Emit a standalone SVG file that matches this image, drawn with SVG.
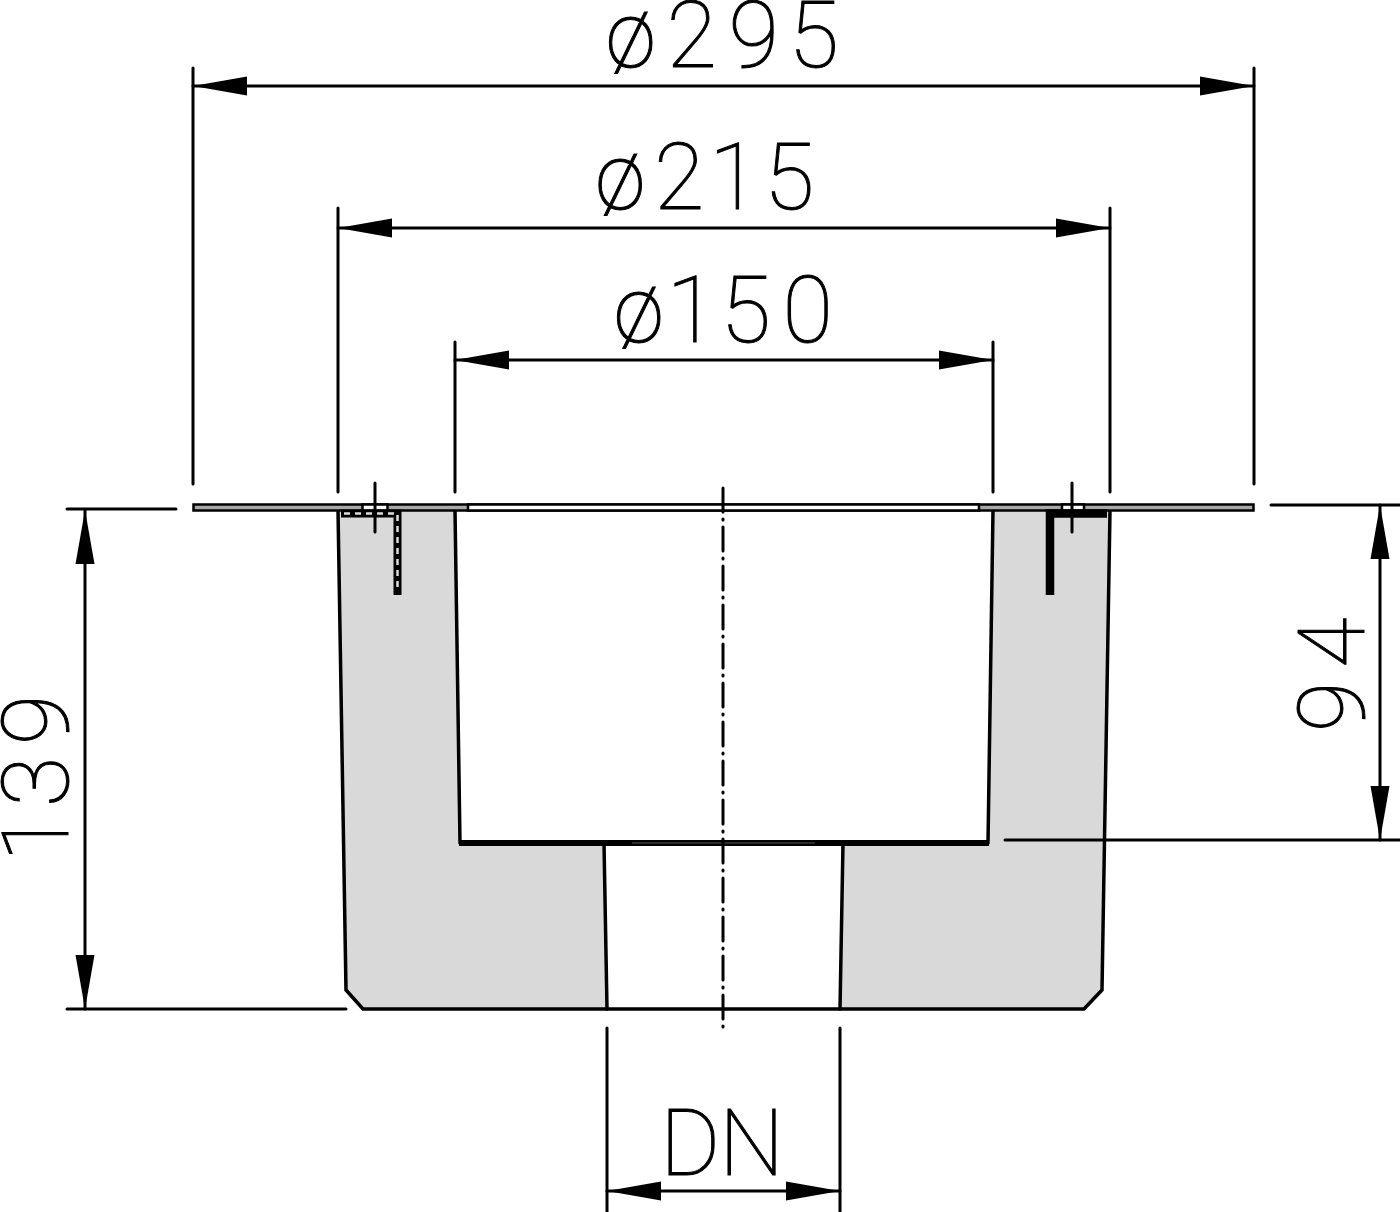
<svg xmlns="http://www.w3.org/2000/svg" width="1400" height="1212" viewBox="0 0 1400 1212">
<style>
.l{fill:none;stroke:#000;stroke-width:3;stroke-linecap:round}
.h{stroke-width:3.500}
.t{font-family:"Roboto","Liberation Sans",sans-serif;font-weight:100;font-size:92px;fill:#000;stroke:#000;stroke-width:1}
</style>
<defs>
<marker id="a" markerUnits="userSpaceOnUse" markerWidth="56" markerHeight="22" refX="54" refY="11" orient="auto-start-reverse"><path d="M0 1.500 54 11 0 20.500z" fill="#000"/></marker>
</defs>
<rect width="1400" height="1212" fill="#fff"/>
<g id="body">
<path d="M338 510H455L460 843H604L607 1009H363L346 990Z" fill="#d9d9d9"/>
<path d="M993 510H1110L1102 990 1084 1009H840L843 843H988Z" fill="#d9d9d9"/>
<path class="l h" d="M338 510 346 990 363 1009H1084L1102 990 1110 510"/>
<path class="l h" d="M455 510 460 843M993 510 988 843M604 843 607 1009M843 843 840 1009"/>
<path d="M459 840H989V846H459Z" fill="#000"/>
<path d="M632 843H815" stroke="#555" stroke-width="1"/>
</g>
<g id="flange">
<rect x="193.500" y="504.500" width="1060" height="6" fill="#a8a8a8" stroke="#000" stroke-width="2.500"/>
<rect x="362.500" y="504.500" width="25" height="6" fill="#fff" stroke="#000" stroke-width="2.500"/>
<rect x="1062" y="504.500" width="22" height="6" fill="#fff" stroke="#000" stroke-width="2.500"/>
<rect x="468" y="504.500" width="511" height="6" fill="#fff" stroke="#000" stroke-width="2.500"/>
</g>
<g id="clip-left">
<path d="M341 513.500H397.500V595" fill="none" stroke="#000" stroke-width="8"/>
<path d="M344 513.500H397.500V592" fill="none" stroke="#ddd" stroke-width="2.500" stroke-dasharray="6 5"/>
</g>
<g id="clip-right">
<path d="M1107 513.500H1050V595" fill="none" stroke="#000" stroke-width="8.500"/>
</g>
<g id="connectors">
<path class="l" d="M193 68V484M1254 68V484M338 208V492M1110 208V492M455 342V492M993 342V492"/>
<path class="l" d="M67 509H176M67 1009H346M1271 505H1400M1005 840H1400M607 1028V1212M840 1028V1212"/>
<path class="l" d="M193 86H1254" marker-start="url(#a)" marker-end="url(#a)"/>
<path class="l" d="M338 228H1110" marker-start="url(#a)" marker-end="url(#a)"/>
<path class="l" d="M455 360H993" marker-start="url(#a)" marker-end="url(#a)"/>
<path class="l" d="M85 510V1009" marker-start="url(#a)" marker-end="url(#a)"/>
<path class="l" d="M1380 505V840" marker-start="url(#a)" marker-end="url(#a)"/>
<path class="l" d="M607 1191H840" marker-start="url(#a)" marker-end="url(#a)"/>
<path class="l" d="M723 488V1031" stroke-dasharray="24 7 1 7"/>
<path class="l" d="M375 483V532M1072 483V532"/>
</g>
<g id="labels">
<text class="t" x="605.500 666.500 728.500 788.500" y="67">ø295</text>
<text class="t" x="595 654 709 764" y="209">ø215</text>
<text class="t" x="613.500 666.500 720.500 782.500" y="342">ø150</text>
<text class="t" x="660 719" y="1175">DN</text>
<text class="t" transform="translate(68 862) rotate(-90)" x="0 55 117">139</text>
<text class="t" transform="translate(1364 732) rotate(-90)" x="0 64">94</text>
</g>
</svg>
